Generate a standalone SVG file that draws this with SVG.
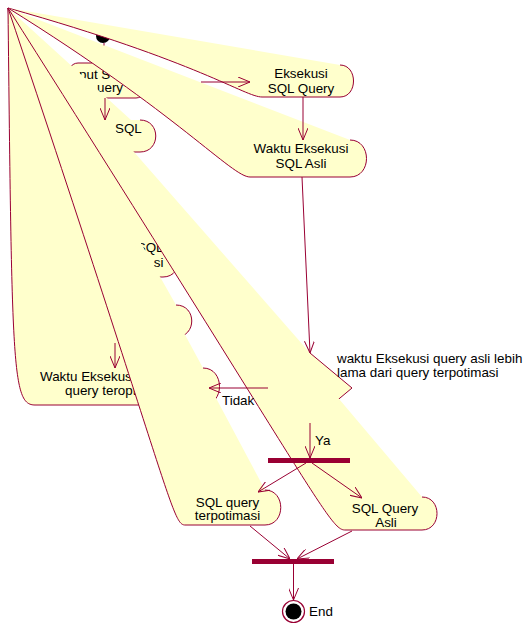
<svg xmlns="http://www.w3.org/2000/svg" width="524" height="626" viewBox="0 0 524 626">
<defs>
<style>
.band{fill:#FFFFCC;stroke:none}
.edge{fill:none;stroke:#990033;stroke-width:1}
.node{fill:#FFFFCC;stroke:#990033;stroke-width:1}
.conn{fill:none;stroke:#990033;stroke-width:1}
.bar{fill:#990033}
.t{font-family:"Liberation Sans",Arial,sans-serif;font-size:13.4px;fill:#000}
.m{text-anchor:middle}
.e{text-anchor:end}
</style>
<marker id="arr" viewBox="0 0 12 10" refX="12" refY="5" markerWidth="12" markerHeight="10" markerUnits="userSpaceOnUse" orient="auto">
<path d="M0,0 L12,5 L0,10" fill="none" stroke="#990033" stroke-width="1"/>
</marker>
</defs>
<rect width="524" height="626" fill="#fff"/>
<g id="start"><circle cx="103" cy="36" r="7" fill="#000"/></g>
<g id="input-sql-query">
<path class="node" d="M78,63 H136 C151,63 151,98 136,98 H78 C63,98 63,63 78,63 Z"/>
<text class="t" x="79" y="79">put S</text>
<text class="t" x="97" y="92">uery</text>
</g>
<g id="eksekusi-sql-query">
<path class="band" d="M8,8 C200,62 245,97 262,97 L340,97 C358,97 358,65 340,65 Z"/>
<path class="edge" d="M8,8 C200,62 245,97 262,97 L340,97 C358,97 358,65 340,65"/>
<text class="t m" x="301" y="78">Eksekusi</text>
<text class="t m" x="301" y="93">SQL Query</text>
</g>
<g id="waktu-eksekusi-sql-asli">
<path class="band" d="M8,8 C180,115 232,177 250,177 L350,177 C372,177 372,140 350,140 Z"/>
<path class="edge" d="M8,8 C180,115 232,177 250,177 L350,177 C372,177 372,140 350,140"/>
<text class="t m" x="301" y="153">Waktu Eksekusi</text>
<text class="t m" x="301" y="168">SQL Asli</text>
</g>
<g id="optimasi-sql">
<path class="band" d="M8,8 C80,118 88,152 102,152 L140,152 C161,152 161,120 140,120 L131,120 Z"/>
<path class="edge" d="M8,8 C80,118 88,152 102,152 L140,152 C161,152 161,120 140,120"/>
<text class="t" x="115" y="133">SQL</text>
</g>
<g id="eksekusi-sql-optimasi">
<path class="band" d="M8,8 C70,240 78,277 95,277 L163,277 C185,277 185,240 163,240 Z"/>
<path class="edge" d="M8,8 C70,240 78,277 95,277 L163,277 C185,277 185,240 163,240"/>
<text class="t e" x="163.5" y="251.5">SQL</text>
<text class="t e" x="163.5" y="266.5">si</text>
</g>
<g id="node-x">
<path class="band" d="M8,8 C30,305 35,337 50,337 L176,337 C197,337 197,305 176,305 Z"/>
<path class="edge" d="M8,8 C30,305 35,337 50,337 L176,337 C197,337 197,305 176,305"/>
</g>
<g id="waktu-eksekusi-query-teroptimasi">
<path class="band" d="M8,8 C12,368 12,405 35,405 L203,405 C225,405 225,368 203,368 Z"/>
<path class="edge" d="M8,8 C12,368 12,405 35,405 L203,405 C225,405 225,368 203,368"/>
<text class="t" x="40" y="381">Waktu Eksekus</text>
<text class="t" x="65" y="395">query teropt</text>
</g>
<g id="decision">
<path class="band" d="M8,8 L268,388 L310,423 L352,388 L310,353 Z"/>
<path class="edge" d="M268,388 L310,423 L352,388 L310,353"/>
<text class="t" x="337" y="363">waktu Eksekusi query asli lebih</text>
<text class="t" x="337" y="377">lama dari query terpotimasi</text>
</g>
<g id="sql-query-terpotimasi">
<path class="band" d="M8,8 C170,490 172,525 185,525 L265,525 C286,525 286,490 265,490 Z"/>
<path class="edge" d="M8,8 C170,490 172,525 185,525 L265,525 C286,525 286,490 265,490"/>
<text class="t m" x="227.5" y="506.5">SQL query</text>
<text class="t m" x="227.5" y="520">terpotimasi</text>
</g>
<g id="sql-query-asli">
<path class="band" d="M8,8 C318,497 330,530 345,530 L422,530 C442,530 442,497 422,497 Z"/>
<path class="edge" d="M8,8 C318,497 330,530 345,530 L422,530 C442,530 442,497 422,497"/>
<text class="t m" x="385" y="513">SQL Query</text>
<text class="t m" x="386" y="526.5">Asli</text>
</g>
<g id="fork"><rect class="bar" x="268" y="458" width="82" height="5"/></g>
<g id="join"><rect class="bar" x="252" y="559" width="82" height="5"/></g>
<g id="end">
<circle cx="293.5" cy="611.5" r="11" fill="#fff" stroke="#990033" stroke-width="1.2"/>
<circle cx="293.5" cy="611.5" r="8" fill="#000"/>
<text class="t" x="309" y="615.5">End</text>
</g>
<g id="connectors">
<path class="conn" d="M104,43 L104,45.5"/>
<path class="conn" d="M201,82 L250,82" marker-end="url(#arr)"/>
<path class="conn" d="M303,97 L303,140" marker-end="url(#arr)"/>
<path class="conn" d="M105,98 L105,120" marker-end="url(#arr)"/>
<path class="conn" d="M115,343 L115,368" marker-end="url(#arr)"/>
<path class="conn" d="M302,177 L310,353" marker-end="url(#arr)"/>
<path class="conn" d="M268,388 L209,388" marker-end="url(#arr)"/>
<text class="t" x="222" y="405">Tidak</text>
<path class="conn" d="M310,423 L310,458" marker-end="url(#arr)"/>
<text class="t" x="315" y="445">Ya</text>
<path class="conn" d="M306,463 L258,492" marker-end="url(#arr)"/>
<path class="conn" d="M312,463 L362,498" marker-end="url(#arr)"/>
<path class="conn" d="M250,526 L290,559" marker-end="url(#arr)"/>
<path class="conn" d="M352,531 L297,559" marker-end="url(#arr)"/>
<path class="conn" d="M293.5,564 L293.5,600" marker-end="url(#arr)"/>
</g>
</svg>
